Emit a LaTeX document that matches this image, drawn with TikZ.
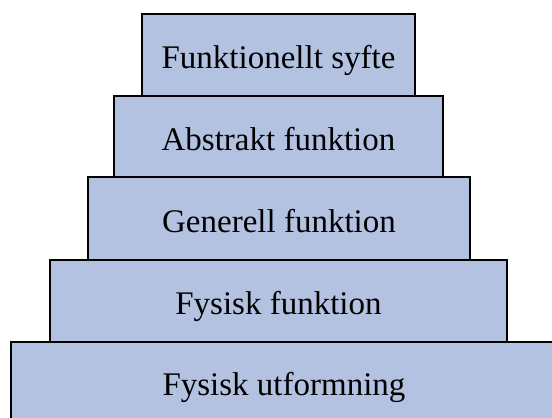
\documentclass[tikz,border=0pt]{standalone}
\usepackage{fontspec}
\setmainfont{Liberation Serif}
\definecolor{levelfill}{RGB}{179,194,224}
\tikzset{
  level/.style={draw=black, fill=levelfill, line width=1.8pt, rectangle,
    inner sep=0pt, text height=27pt, text depth=0pt,
    font=\fontsize{33}{40}\selectfont, text=black}
}
\begin{document}
\begin{tikzpicture}[x=1pt,y=-1pt]
  \useasboundingbox (0,0) rectangle (552,418);
  \clip (0,0) rectangle (552,418);
  % stacked abstraction levels, top to bottom
  \node[level, minimum width=273pt, minimum height=82pt] (l1) at (278.5,55) {Funktionellt syfte};
  \node[level, minimum width=329pt, minimum height=81pt] (l2) at (278.5,136.5) {Abstrakt funktion};
  \node[level, minimum width=382pt, minimum height=83pt] (l3) at (279,218.5) {Generell funktion};
  \node[level, minimum width=457pt, minimum height=82pt] (l4) at (278.5,301) {Fysisk funktion};
  \node[level, minimum width=546pt, minimum height=80pt] (l5) at (284,382) {Fysisk utformning};
\end{tikzpicture}
\end{document}
